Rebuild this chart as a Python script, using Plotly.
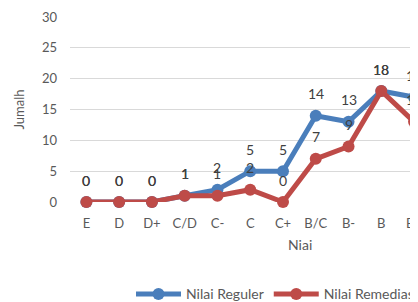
import plotly.graph_objects as go

categories = ["E", "D", "D+", "C/D", "C-", "C", "C+", "B/C", "B-", "B", "B+"]
nilai_reguler = [0, 0, 0, 1, 2, 5, 5, 14, 13, 18, 17]
nilai_remediasi = [0, 0, 0, 1, 1, 2, 0, 7, 9, 18, 13]
y_ticks = [0, 5, 10, 15, 20, 25, 30]

font_family = "Lato, Open Sans, sans-serif"
text_color = "#595959"
label_color = "#404040"
blue = "#4A7EBB"
red = "#BE4B48"

xs = list(range(len(categories)))

fig = go.Figure()
fig.add_trace(go.Scatter(
    x=xs, y=nilai_reguler, name="Nilai Reguler", mode="lines+markers",
    line=dict(color=blue, width=5), marker=dict(size=12, color=blue),
    cliponaxis=False))
fig.add_trace(go.Scatter(
    x=xs, y=nilai_remediasi, name="Nilai Remediasi", mode="lines+markers",
    line=dict(color=red, width=5), marker=dict(size=12, color=red),
    cliponaxis=False))

annotations = []
for series in (nilai_reguler, nilai_remediasi):
    for xi, v in zip(xs, series):
        annotations.append(dict(
            x=xi, y=v, xref="x", yref="y", text=str(v), showarrow=False,
            yshift=22, xanchor="center", yanchor="middle",
            font=dict(size=14, color=label_color, family=font_family)))
annotations.append(dict(text="Niai", xref="paper", yref="paper", x=0.661, y=-0.232,
                        showarrow=False, font=dict(size=14, color=text_color),
                        xanchor="center", yanchor="middle"))

fig.update_layout(
    width=410, height=294,
    margin=dict(l=62, r=0, t=9, b=100, autoexpand=False),
    paper_bgcolor="white", plot_bgcolor="white",
    font=dict(family=font_family, size=13, color=text_color),
    showlegend=True,
    legend=dict(orientation="h", xref="container", yref="container",
                x=0.3, xanchor="left", y=0.026, yanchor="middle",
                font=dict(size=14, color=text_color), itemwidth=45,
                traceorder="normal"),
    xaxis=dict(
        tickmode="array", tickvals=xs, ticktext=categories,
        range=[-0.5, 10.12], showgrid=False, zeroline=False, showline=False,
        ticks="", ticklabelstandoff=12, ticklabeloverflow="allow",
        automargin=False, fixedrange=True,
        tickfont=dict(size=13, color=text_color)),
    yaxis=dict(
        range=[0, 30], tickvals=y_ticks, showgrid=True, gridcolor="#D9D9D9", gridwidth=1,
        zeroline=False, showline=False, ticks="", ticklabelstandoff=12,
        ticklabeloverflow="allow", automargin=False,
        tickfont=dict(size=13, color=text_color),
        title=dict(text="Jumalh", font=dict(size=13, color=text_color), standoff=14)),
    annotations=annotations,
)

fig.write_html("out.html")
